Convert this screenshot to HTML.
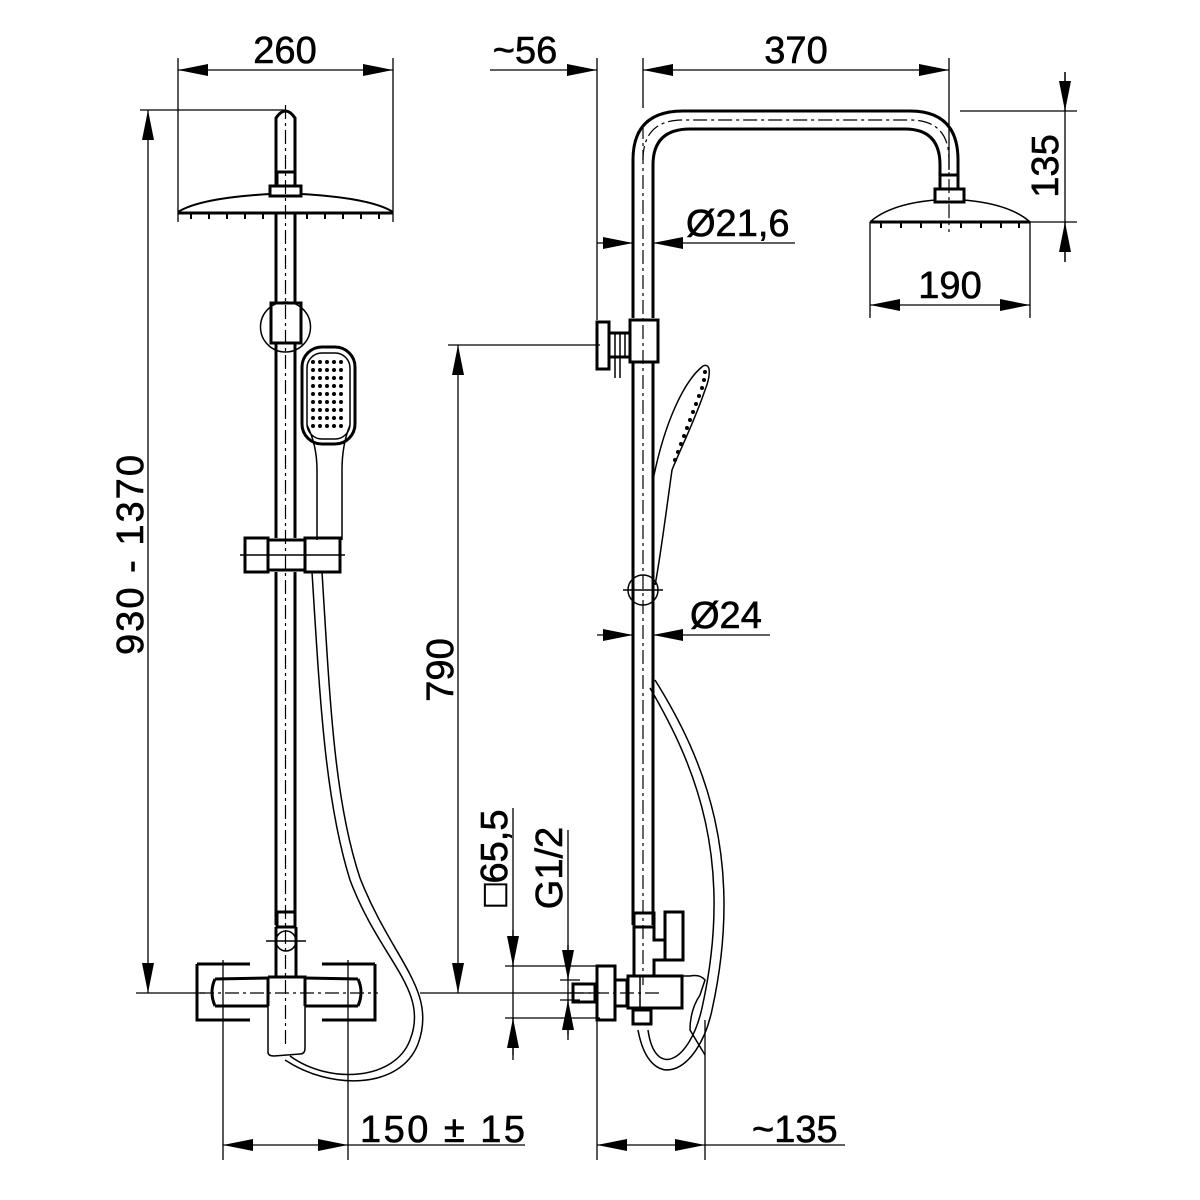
<!DOCTYPE html>
<html><head><style>html,body{margin:0;padding:0;background:#fff}svg{display:block}</style></head>
<body>
<svg width="1200" height="1200" viewBox="0 0 1200 1200" xmlns="http://www.w3.org/2000/svg" font-family="Liberation Sans, Arial, sans-serif">
<defs>
<marker id="a" viewBox="0 0 30 12" refX="30" refY="6" markerWidth="30" markerHeight="12" markerUnits="userSpaceOnUse" orient="auto"><path d="M0,0L30,6L0,12z" fill="#000"/></marker>
</defs>
<g stroke="#000" fill="none">
<g stroke-width="1.3">
<line x1="178" y1="58" x2="178" y2="222"/><line x1="393" y1="58" x2="393" y2="222"/>
<line x1="140" y1="110" x2="285" y2="110"/>
<line x1="136" y1="993" x2="205" y2="993"/>
<line x1="223" y1="960" x2="223" y2="1160"/><line x1="348" y1="960" x2="348" y2="1160"/>
<line x1="597" y1="58" x2="597" y2="320"/><line x1="643" y1="58" x2="643" y2="108"/><line x1="949" y1="58" x2="949" y2="170"/>
<line x1="960" y1="111" x2="1077" y2="111"/><line x1="1030" y1="222" x2="1077" y2="222"/>
<line x1="870" y1="222" x2="870" y2="318"/><line x1="1030" y1="222" x2="1030" y2="318"/>
<line x1="448" y1="345" x2="600" y2="345"/>
<line x1="420" y1="993" x2="600" y2="993"/>
<line x1="505" y1="966" x2="600" y2="966"/><line x1="505" y1="1018" x2="600" y2="1018"/>
<line x1="560" y1="980" x2="580" y2="980"/><line x1="560" y1="1000" x2="580" y2="1000"/>
<line x1="597" y1="1020" x2="597" y2="1160"/><line x1="705" y1="1020" x2="705" y2="1160"/>
<line x1="513" y1="808" x2="513" y2="1060"/><line x1="568" y1="830" x2="568" y2="1040"/>
<line x1="1065" y1="72" x2="1065" y2="262"/>
</g>
<g stroke-width="1.3">
<line x1="285" y1="70" x2="178" y2="70" marker-end="url(#a)"/><line x1="285" y1="70" x2="393" y2="70" marker-end="url(#a)"/>
<line x1="148" y1="550" x2="148" y2="110" marker-end="url(#a)"/><line x1="148" y1="550" x2="148" y2="993" marker-end="url(#a)"/>
<line x1="285" y1="1145" x2="223" y2="1145" marker-end="url(#a)"/><line x1="285" y1="1145" x2="348" y2="1145" marker-end="url(#a)"/>
<line x1="348" y1="1145" x2="525" y2="1145"/>
<line x1="490" y1="70" x2="597" y2="70" marker-end="url(#a)"/>
<line x1="800" y1="70" x2="643" y2="70" marker-end="url(#a)"/><line x1="800" y1="70" x2="949" y2="70" marker-end="url(#a)"/>
<line x1="1065" y1="72" x2="1065" y2="111" marker-end="url(#a)"/><line x1="1065" y1="262" x2="1065" y2="222" marker-end="url(#a)"/>
<line x1="950" y1="305" x2="870" y2="305" marker-end="url(#a)"/><line x1="950" y1="305" x2="1030" y2="305" marker-end="url(#a)"/>
<line x1="597" y1="243" x2="633" y2="243" marker-end="url(#a)"/><line x1="795" y1="243" x2="653" y2="243" marker-end="url(#a)"/>
<line x1="597" y1="635" x2="633" y2="635" marker-end="url(#a)"/><line x1="770" y1="635" x2="653" y2="635" marker-end="url(#a)"/>
<line x1="458" y1="670" x2="458" y2="345" marker-end="url(#a)"/><line x1="458" y1="670" x2="458" y2="993" marker-end="url(#a)"/>
<line x1="650" y1="1145" x2="597" y2="1145" marker-end="url(#a)"/><line x1="650" y1="1145" x2="705" y2="1145" marker-end="url(#a)"/>
<line x1="705" y1="1145" x2="845" y2="1145"/>
<line x1="513" y1="930" x2="513" y2="966" marker-end="url(#a)"/><line x1="513" y1="1055" x2="513" y2="1018" marker-end="url(#a)"/>
<line x1="568" y1="945" x2="568" y2="980" marker-end="url(#a)"/><line x1="568" y1="1035" x2="568" y2="1000" marker-end="url(#a)"/>
</g>

<g stroke-width="1.2" stroke-dasharray="14,4,3,4">
<line x1="285.5" y1="105" x2="285.5" y2="1045"/>
<line x1="643" y1="125" x2="643" y2="985"/>
<path d="M643,160 Q643,120 683,120 L910,120 Q949,120 949,160 L949,232"/>
<line x1="200" y1="993" x2="378" y2="993"/>
<line x1="570" y1="993" x2="660" y2="993"/>
</g>

<g stroke-width="3">
<path d="M276,185 L276,118 Q285.5,104 295,118 L295,185"/>
<rect x="277" y="172" width="18" height="14"/>
<rect x="270" y="186" width="31" height="10"/>
<path d="M178,212 Q200,198 270,194 M301,194 Q371,198 393,212" stroke-width="2"/>
<line x1="178" y1="213" x2="393" y2="213"/>
<line x1="276" y1="213" x2="276" y2="303"/><line x1="295" y1="213" x2="295" y2="303"/>
<rect x="271" y="303" width="30" height="40"/>
<line x1="276" y1="343" x2="276" y2="538"/><line x1="295" y1="343" x2="295" y2="538"/>
<line x1="276" y1="572" x2="276" y2="925"/><line x1="295" y1="572" x2="295" y2="925"/>
<rect x="245" y="538" width="23" height="34"/>
<path d="M268,540 L305,540 L305,570 L268,570z"/>
<rect x="305" y="538" width="35" height="34"/>
<rect x="302" y="347" width="53" height="97" rx="20"/>
</g>
<g stroke-width="1.5">
<circle cx="285.5" cy="327" r="25"/>
<rect x="307" y="353" width="43" height="86" rx="15"/>
<path d="M307,425 Q317,445 317,470 L317,540 M350,425 Q342,445 342,470 L342,540"/>
<path d="M312,572 C320,700 325,800 350,880 C380,960 430,990 410,1040 C395,1080 330,1085 290,1056"/>
<path d="M322,572 C330,700 334,800 360,878 C392,960 438,990 418,1044 C400,1090 330,1090 285,1060"/>
<line x1="240" y1="555" x2="345" y2="555"/>
</g>
<g fill="#000" stroke="none">
<g id="dots">
<circle cx="313" cy="362" r="2"/><circle cx="320" cy="362" r="2"/><circle cx="327" cy="362" r="2"/><circle cx="334" cy="362" r="2"/><circle cx="341" cy="362" r="2"/>
</g>
<use href="#dots" y="8"/><use href="#dots" y="16"/><use href="#dots" y="24"/><use href="#dots" y="32"/><use href="#dots" y="40"/><use href="#dots" y="48"/><use href="#dots" y="56"/><use href="#dots" y="64"/>
<rect x="190" y="214" width="2" height="5"/><rect x="208" y="214" width="2" height="5"/><rect x="226" y="214" width="2" height="5"/><rect x="244" y="214" width="2" height="5"/><rect x="262" y="214" width="2" height="5"/><rect x="306" y="214" width="2" height="5"/><rect x="324" y="214" width="2" height="5"/><rect x="342" y="214" width="2" height="5"/><rect x="360" y="214" width="2" height="5"/><rect x="378" y="214" width="2" height="5"/>
</g>
<g stroke-width="3">
<rect x="277" y="912" width="18" height="15"/>
<path d="M276,927 L276,978 M296,927 L296,978"/>
<path d="M197,964 L250,964 M197,964 L197,1020 L250,1020"/>
<path d="M375,964 L322,964 M375,964 L375,1020 L322,1020"/>
<path d="M215,979 L268,978 M215,1006 L268,1006 M215,979 Q209,992 215,1006"/>
<path d="M305,978 L358,979 M305,1006 L358,1006 M358,979 Q364,992 358,1006"/>
<path d="M268,977 L305,977 L305,1006 M268,977 L268,1006"/>
</g>
<g stroke-width="1.5">
<circle cx="286" cy="941" r="10"/>
<line x1="266" y1="941" x2="306" y2="941"/>
<path d="M268,1006 L268,1052 Q268,1056 274,1056 L300,1054 Q305,1054 305,1048 L305,1006"/>
</g>

<g stroke-width="3">
<path d="M633,318 L633,160 Q633,111 683,111 L910,111 Q958,111 958,160 L958,175"/>
<path d="M653,318 L653,165 Q653,129 690,129 L905,129 Q940,129 940,165 L940,175"/>
<rect x="940" y="175" width="18" height="14"/>
<rect x="935" y="189" width="29" height="13"/>
<line x1="870" y1="222" x2="1030" y2="222"/>
<rect x="630" y="320" width="28" height="42"/>
<rect x="597" y="322" width="12" height="47"/>
<path d="M609,333 L630,333 M609,357 L630,357"/>
<line x1="633" y1="362" x2="633" y2="925"/><line x1="653" y1="362" x2="653" y2="925"/>
</g>
<g stroke-width="1.5">
<path d="M870,222 Q890,204 935,200 M964,200 Q1010,204 1030,222"/>
<path d="M615,333 L615,378 M620,333 L620,378 M625,333 L625,357"/>
<path d="M653,480 C665,420 685,380 703,366 C712,362 710,378 705,390 C695,420 680,450 672,470 C665,520 660,560 655,585"/>
<circle cx="643" cy="590" r="15"/>
<line x1="623" y1="590" x2="663" y2="590"/>
<path d="M655,680 C705,760 745,860 712,1010 C698,1075 650,1095 638,1030"/>
<path d="M650,688 C695,765 735,860 702,1008 C690,1062 655,1080 648,1030"/>
</g>
<g fill="#000" stroke="none">
<circle cx="705" cy="372" r="2"/><circle cx="704" cy="380" r="2"/><circle cx="702" cy="388" r="2"/><circle cx="699" cy="396" r="2"/><circle cx="696" cy="404" r="2"/><circle cx="693" cy="412" r="2"/><circle cx="690" cy="420" r="2"/><circle cx="687" cy="428" r="2"/><circle cx="684" cy="436" r="2"/><circle cx="681" cy="444" r="2"/><circle cx="678" cy="452" r="2"/><circle cx="675" cy="460" r="2"/>
<rect x="880" y="223" width="2" height="5"/><rect x="900" y="223" width="2" height="5"/><rect x="920" y="223" width="2" height="5"/><rect x="940" y="223" width="2" height="5"/><rect x="960" y="223" width="2" height="5"/><rect x="980" y="223" width="2" height="5"/><rect x="1000" y="223" width="2" height="5"/><rect x="1018" y="223" width="2" height="5"/>
</g>
<g stroke-width="3">
<rect x="634" y="913" width="20" height="14"/>
<path d="M634,927 L634,976 M654,927 L654,940 L665,940 L665,960 L654,960 L654,976"/>
<rect x="665" y="912" width="18" height="48"/>
<rect x="597" y="966" width="18" height="54"/>
<rect x="573" y="984" width="22" height="18"/>
<rect x="615" y="980" width="12" height="26"/>
<rect x="628" y="976" width="54" height="32"/>
<rect x="633" y="1010" width="18" height="14"/>
</g>
<g stroke-width="1.5">
<path d="M682,976 L690,976 Q700,974 705,980 L700,995 Q690,1010 690,1030 L705,1055"/>
<line x1="640" y1="976" x2="640" y2="1008"/>
</g>
</g>

<g font-size="38" fill="#000" stroke="#000" stroke-width="0.6">
<text x="285" y="63" text-anchor="middle">260</text>
<text x="525" y="63" text-anchor="middle">~56</text>
<text x="796" y="63" text-anchor="middle">370</text>
<text x="950" y="298" text-anchor="middle">190</text>
<text x="686" y="236">Ø21,6</text>
<text x="690" y="628">Ø24</text>
<text x="360" y="1142" textLength="165">150 ±  15</text>
<text x="752" y="1142">~135</text>
<text transform="translate(143,555) rotate(-90)" text-anchor="middle" textLength="200">930 - 1370</text>
<text transform="translate(453,670) rotate(-90)" text-anchor="middle">790</text>
<text transform="translate(1058,166) rotate(-90)" text-anchor="middle">135</text>
<text transform="translate(507,858) rotate(-90)" text-anchor="middle">□65,5</text>
<text transform="translate(562,868) rotate(-90)" text-anchor="middle">G1/2</text>
</g>
</svg>
</body></html>
